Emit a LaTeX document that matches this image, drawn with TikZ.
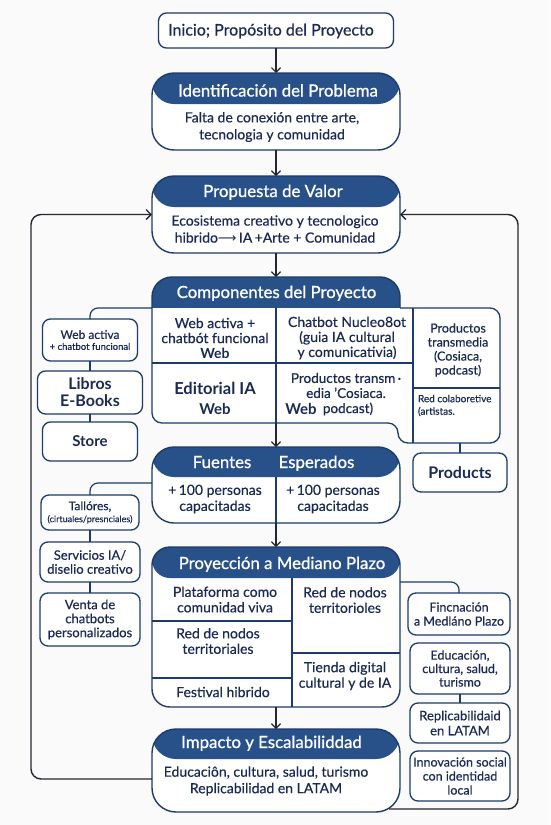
\documentclass[tikz,border=0pt]{standalone}
\usepackage{fontspec}
\setmainfont{Lato}[FakeBold=0.45, BoldFeatures={FakeBold=0}]
\newfontfamily\headfont{Lato}[FakeBold=0.9]
\newfontfamily\symfont{DejaVu Sans}
\usetikzlibrary{arrows.meta}

\definecolor{navy}{HTML}{1C3A6C}
\definecolor{headblue}{HTML}{28518A}
\definecolor{ink}{HTML}{1B2A55}
\definecolor{wire}{HTML}{23272F}
\definecolor{paper}{HTML}{FAFAFA}

\newcommand{\fs}[2]{\fontsize{#1}{#2}\selectfont}

\begin{document}
\begin{tikzpicture}[x=1pt,y=-1pt,
  every node/.style={inner sep=0pt, outer sep=0pt},
  card/.style={draw=navy, line width=1.3pt, fill=white, rounded corners=8pt, text=ink, align=center},
  headcard/.style={draw=navy, line width=1.4pt, fill=white,
    path picture={\fill[headblue] (path picture bounding box.north west) rectangle ([yshift=-#1]path picture bounding box.north east);}},
  headtext/.style={text=white, font=\headfont\fs{16.8}{19}, anchor=base},
  txt/.style={text=ink, align=center},
  grid/.style={draw=navy, line width=1.2pt},
  link/.style={draw=navy, line width=1.2pt, rounded corners=8pt},
  arr/.style={draw=wire, line width=1.2pt, -{Straight Barb[length=4.5pt,width=9pt]}},
  loopline/.style={draw=wire, line width=1.4pt, rounded corners=10pt, -{Straight Barb[length=5pt,width=10pt]}}
]
\fill[paper] (0,0) rectangle (550,825);
\useasboundingbox (0,0) rectangle (550,825);

% ---------- main column ----------
\node[card, minimum width=235pt, minimum height=35pt] (start) at (276,30.5) {};
\node[txt, anchor=base, font=\fs{16}{18}] (starttext) at (271,35.5) {Inicio; Propósito del Proyecto};

\node[headcard=31pt, rounded corners=22pt, minimum width=248pt, minimum height=77pt] (ident) at (276,111.5) {};
\node[headtext] (identhead) at (278,96.5) {Identificación del Problema};
\node[txt, font=\fs{14}{17}] (identbody) at (272,127) {Falta de conexión entre arte,\\tecnologia y comunidad};

\node[headcard=31pt, rounded corners=22pt, minimum width=248pt, minimum height=77pt] (prop) at (276,214.5) {};
\node[headtext] (prophead) at (273,197) {Propuesta de Valor};
\node[txt, font=\fs{14}{17}] (propbody) at (275,229) {Ecosistema creativo y tecnologico\\hibrido{\symfont\fs{13}{17}⟶}\,IA\,+Arte + Comunidad};

% components block: header band and stepped body
\begin{scope}
  \clip (140,268) rectangle (410,308);
  \filldraw[fill=headblue, draw=navy, line width=1.4pt, rounded corners=20pt] (152,277) rectangle (400,340);
\end{scope}
\draw[grid, line width=1.3pt, fill=white, rounded corners=10pt]
  (152,308) -- (152,423) -- (398,423) -- (398,443) -- (500,443) -- (500,308) -- (400,308);
\draw[grid] (276,308) -- (276,423);
\draw[grid] (152,363) -- (413,363);
\draw[grid] (413,308) -- (413,443);
\draw[grid] (413,388) -- (500,388);
\node[minimum width=248pt, minimum height=31pt] (comphead) at (276,292.5) {};
\node[headtext] (compheadtext) at (276.5,298) {Componentes del Proyecto};
\coordinate (compnw) at (152,308);
\coordinate (compfoot) at (276,423);
\coordinate (prodfoot) at (460,443);

\node[txt, font=\fs{14}{15}] (ctl) at (215,338) {Web activa +\\chatbót funcional\\\textbf{Web}};
\node[txt, font=\fs{16.5}{19}\bfseries] (cbl) at (215,388) {Editorial IA};
\node[txt, font=\fs{15}{18}\bfseries] (cblweb) at (215,409) {Web};
\node[txt, font=\fs{14}{15}] (ctm) at (347,338) {Chatbot Nucleo8ot\\(guia IA cultural\\y comunicativia)};
\node[txt, font=\fs{13.5}{15}] (cbm) at (346,385.5) {Productos transm\,·\\edia 'Cosiaca.};
\node[txt, font=\fs{15}{18}\bfseries] (cbmweb) at (301,409) {Web};
\node[txt, font=\fs{13.5}{15}] (cbmpod) at (348,409) {podcast)};
\node[txt, font=\fs{12.5}{14}] (crt) at (458,350) {Productos\\transmedia\\(Cosiaca,\\podcast)};
\node[txt, align=left, anchor=west, font=\fs{10}{12.5}] (crb) at (418,405.5) {Red colaboretive\\(artistas.};

\node[headcard=30pt, rounded corners=22pt, minimum width=248pt, minimum height=76pt] (fuentes) at (276,485) {};
\draw[grid] (276,477) -- (276,523);
\node[headtext] (fuenteshead) at (222,468) {Fuentes};
\node[headtext] (esperadoshead) at (316.5,468) {Esperados};
\node[txt, font=\fs{14}{16}] (fuentesl) at (215,499) {+\,100 personas\\capacitadas};
\node[txt, font=\fs{14}{16}] (fuentesr) at (333,499) {+\,100 personas\\capacitadas};
\coordinate (fuentesw) at (152,483);

\node[headcard=31pt, rounded corners=18pt, minimum width=248pt, minimum height=160pt] (proy) at (276,627) {};
\draw[grid] (292,578) -- (292,707);
\draw[grid] (152,621) -- (292,621);
\draw[grid] (152,678) -- (292,678);
\draw[grid] (292,653) -- (400,653);
\node[headtext] (proyhead) at (282,569) {Proyección a Mediano Plazo};
\node[txt, font=\fs{14}{15.5}] (p1) at (225,599.5) {Plataforma como\\comunidad viva};
\node[txt, font=\fs{14}{15.5}] (p2) at (218,641) {Red de nodos\\territoriales};
\node[txt, font=\fs{14}{15.5}] (p3) at (223,692) {Festival hibrido};
\node[txt, font=\fs{14}{15.5}] (p4) at (345,600) {Red de nodos\\territorioles};
\node[txt, font=\fs{14}{15.5}] (p5) at (345,676) {Tienda digital\\cultural y de IA};
\coordinate (proyne) at (400,582);

\node[headcard=30pt, rounded corners=24pt, minimum width=248pt, minimum height=83pt] (impacto) at (276,770.5) {};
\node[headtext] (impactohead) at (271.5,748) {Impacto y Escalabiliddad};
\node[txt, font=\fs{14}{16.5}] (impactobody) at (266,781) {Educaciôn, cultura, salud, turismo\\Replicabilidad en LATAM};

% ---------- left column ----------
\node[card, minimum width=95pt, minimum height=42pt] (web) at (90,340) {\fs{12}{14}Web activa\\[-1pt]\fs{9.5}{13}+ chatbot funcional};
\node[card, minimum width=105pt, minimum height=43pt, font=\fs{16}{17}\bfseries] (libros) at (90,392.5) {Libros\\E-Books};
\node[card, minimum width=95pt, minimum height=39pt, font=\fs{15}{18}\bfseries] (store) at (90,441.5) {Store};

\node[card, minimum width=98pt, minimum height=35pt] (tall) at (90,512.5) {\fs{12}{13}Tallóres,\\\fs{9}{12}(cirtuales/presnciales)};
\node[card, minimum width=100pt, minimum height=40pt, font=\fs{13}{14}] (serv) at (90,562) {Servicios IA/\\diselio creativo};
\node[card, minimum width=100pt, minimum height=53pt, font=\fs{13}{14}] (venta) at (90,619.5) {Venta de\\chatbots\\personalizados};

% ---------- right column ----------
\node[card, minimum width=94pt, minimum height=39pt, font=\fs{16}{18}\bfseries] (products) at (460,472.5) {Products};
\node[card, minimum width=102pt, minimum height=42pt, font=\fs{12.5}{14}] (finc) at (459,614) {Fincnación\\a Medláno Plazo};
\node[card, minimum width=100pt, minimum height=51pt, font=\fs{12.5}{13.5}] (educ) at (460,668.5) {Educación,\\cultura, salud,\\turismo};
\node[card, minimum width=100pt, minimum height=40pt, font=\fs{13}{15}] (repl) at (460,723) {Replicabilidaid\\en LATAM};
\node[card, minimum width=100pt, minimum height=50pt, font=\fs{12.5}{14}] (innov) at (460,776) {Innovación social\\con identidad\\local};

% ---------- connectors ----------
\draw[arr] (start) -- (ident);
\draw[arr] (ident) -- (prop);
\draw[arr] (prop) -- (comphead);
\draw[arr] (compfoot) -- (fuentes);
\draw[arr] (fuentes) -- (proy);
\draw[arr] (proy) -- (impacto);

\draw[link] (compnw) -| (web.north);
\draw[link] (web) -- (libros);
\draw[link] (libros) -- (store);
\draw[link] (fuentesw) -| (tall.north);
\draw[link] (tall) -- (serv);
\draw[link] (serv) -- (venta);

\draw[link] (prodfoot) -- (products);
\draw[link] (proyne) -| (finc.north);
\draw[link] (educ) -- (repl);

% feedback loops back to the value proposition
\draw[loopline] ([yshift=-8.5pt]impacto.west) -| (31,214.5) -- (prop.west);
\draw[loopline] ([xshift=-11pt,yshift=3pt]impacto.south east) -| (518,214.5) -- (prop.east);
\end{tikzpicture}
\end{document}
